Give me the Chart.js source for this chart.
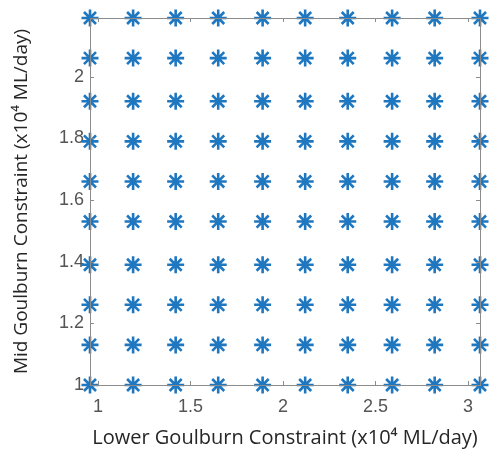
<!DOCTYPE html>
<html>
<head>
<meta charset="utf-8">
<script src="https://cdn.jsdelivr.net/npm/chart.js@4.4.1/dist/chart.umd.min.js"></script>
<style>
  html, body { margin: 0; padding: 0; background: #fff; }
  #wrap { width: 496px; height: 450px; }
</style>
</head>
<body>
<div id="wrap"><canvas id="chart" width="496" height="450"></canvas></div>
<script>
// grid of constraint combinations (x10^4 ML/day)
const lowerGoulburn = [0.957, 1.19, 1.42, 1.65, 1.89, 2.12, 2.35, 2.59, 2.82, 3.065];
const midGoulburn = [1.0, 1.13, 1.26, 1.39, 1.53, 1.66, 1.79, 1.92, 2.06, 2.19];

const xTicks = [1, 1.5, 2, 2.5, 3];
const yTicks = [1, 1.2, 1.4, 1.6, 1.8, 2];

const points = [];
lowerGoulburn.forEach(x => {
    midGoulburn.forEach(y => points.push({ x: x, y: y }));
});

const matBlue = '#1f77c0';
const axisGrey = '#8c8c8c';

// box around the axes plus small inward ticks, like matlab
const boxPlugin = {
    id: 'boxPlugin',
    afterDraw(chart) {
        const ctx = chart.ctx;
        const a = chart.chartArea;
        const xs = chart.scales.x, ys = chart.scales.y;
        ctx.save();
        ctx.strokeStyle = axisGrey;
        ctx.lineWidth = 1;
        ctx.strokeRect(a.left + 0.5, a.top + 0.5, a.right - a.left, a.bottom - a.top);
        ctx.beginPath();
        xTicks.forEach(v => {
            const px = Math.round(xs.getPixelForValue(v)) + 0.5;
            ctx.moveTo(px, a.bottom); ctx.lineTo(px, a.bottom - 4);
            ctx.moveTo(px, a.top); ctx.lineTo(px, a.top + 4);
        });
        yTicks.forEach(v => {
            const py = Math.round(ys.getPixelForValue(v)) + 0.5;
            ctx.moveTo(a.left, py); ctx.lineTo(a.left + 4, py);
            ctx.moveTo(a.right, py); ctx.lineTo(a.right - 4, py);
        });
        ctx.stroke();
        ctx.restore();
    }
};

new Chart(document.getElementById('chart'), {
    type: 'scatter',
    data: {
        datasets: [{
            data: points,
            pointStyle: 'star',
            radius: 8.5,
            hoverRadius: 8.5,
            borderColor: matBlue,
            backgroundColor: matBlue,
            borderWidth: 2.6,
            clip: false
        }]
    },
    options: {
        responsive: false,
        animation: false,
        layout: { padding: { top: 18, right: 16, left: 0, bottom: 0 } },
        plugins: { legend: { display: false }, tooltip: { enabled: false } },
        scales: {
            x: {
                type: 'linear',
                min: lowerGoulburn[0],
                max: lowerGoulburn[lowerGoulburn.length - 1],
                afterBuildTicks: s => { s.ticks = xTicks.map(v => ({ value: v })); },
                afterFit: s => { s.height = 65; },
                grid: { display: false, drawTicks: false },
                border: { display: false },
                ticks: {
                    color: '#555',
                    padding: 11,
                    maxRotation: 0,
                    font: { family: 'Liberation Sans', size: 18 },
                    callback: v => String(v)
                },
                title: {
                    display: true,
                    text: 'Lower Goulburn Constraint (x10\u2074 ML/day)',
                    color: '#262626',
                    padding: { top: 0, bottom: 0 },
                    font: { family: 'Open Sans', size: 20 }
                }
            },
            y: {
                type: 'linear',
                min: midGoulburn[0],
                max: midGoulburn[midGoulburn.length - 1],
                afterBuildTicks: s => { s.ticks = yTicks.map(v => ({ value: v })); },
                afterFit: s => { s.width = 90; },
                grid: { display: false, drawTicks: false },
                border: { display: false },
                ticks: {
                    color: '#555',
                    padding: 6,
                    font: { family: 'Liberation Sans', size: 18 },
                    callback: v => String(v)
                },
                title: {
                    display: true,
                    text: 'Mid Goulburn Constraint (x10\u2074 ML/day)',
                    color: '#262626',
                    padding: { top: 10, bottom: 0 },
                    font: { family: 'Open Sans', size: 19 }
                }
            }
        }
    },
    plugins: [boxPlugin]
});
</script>
</body>
</html>
